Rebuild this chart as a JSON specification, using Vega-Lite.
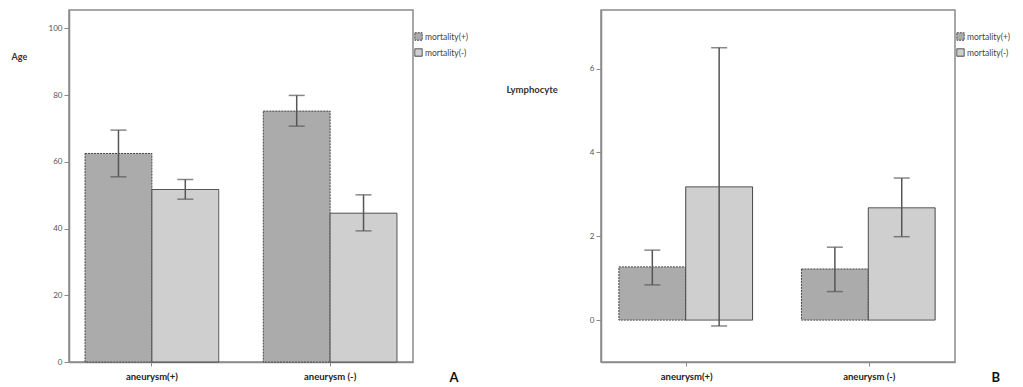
{
  "$schema": "https://vega.github.io/schema/vega-lite/v6.json",
  "padding": {"left": 10, "top": 9, "right": 0, "bottom": 0},
  "bounds": "flush",
  "spacing": 188,
  "config": {
    "font": "Lato",
    "view": {"stroke": "#8a8a8a", "strokeWidth": 1.5},
    "axis": {"grid": false, "domainColor": "#8a8a8a", "domainWidth": 1.5, "tickColor": "#8a8a8a", "labelColor": "#555", "labelFontSize": 8, "titleColor": "#333", "titleFontSize": 9, "titleFontWeight": "bold"},
    "legend": {"labelFontSize": 8.5, "labelColor": "#444", "symbolType": "square", "symbolSize": 55, "symbolStrokeColor": "#444", "symbolStrokeWidth": 1, "rowPadding": 3, "labelOffset": 2, "padding": 0}
  },
  "datasets": {
    "a": [
      {"aneurysm": "aneurysm(+)", "mortality": "mortality(+)", "value": 62.5, "lo": 55.5, "hi": 69.5},
      {"aneurysm": "aneurysm(+)", "mortality": "mortality(-)", "value": 51.7, "lo": 48.8, "hi": 54.7},
      {"aneurysm": "aneurysm (-)", "mortality": "mortality(+)", "value": 75.2, "lo": 70.7, "hi": 79.9},
      {"aneurysm": "aneurysm (-)", "mortality": "mortality(-)", "value": 44.6, "lo": 39.3, "hi": 50.1}
    ],
    "b": [
      {"aneurysm": "aneurysm(+)", "mortality": "mortality(+)", "value": 1.27, "lo": 0.84, "hi": 1.67},
      {"aneurysm": "aneurysm(+)", "mortality": "mortality(-)", "value": 3.18, "lo": -0.14, "hi": 6.5},
      {"aneurysm": "aneurysm (-)", "mortality": "mortality(+)", "value": 1.22, "lo": 0.68, "hi": 1.74},
      {"aneurysm": "aneurysm (-)", "mortality": "mortality(-)", "value": 2.68, "lo": 1.99, "hi": 3.39}
    ]
  },
  "resolve": {"scale": {"x": "independent", "y": "independent", "fill": "independent", "strokeDash": "independent"}, "legend": {"fill": "independent", "strokeDash": "independent"}},
  "hconcat": [
    {
      "width": 344,
      "height": 352,
      "data": {"name": "a"},
      "encoding": {
        "x": {"field": "aneurysm", "type": "nominal", "sort": ["aneurysm(+)", "aneurysm (-)"], "scale": {"paddingInner": 0.25, "paddingOuter": 0.09},
          "axis": {"labelAngle": 0, "labelFontSize": 9.5, "labelFontWeight": "bold", "labelColor": "#222", "tickSize": 4, "labelPadding": 5, "title": "A", "titleX": 380, "titleY": 15, "titleAlign": "left", "titleBaseline": "middle", "titleFontSize": 13, "titleColor": "#111"}},
        "xOffset": {"field": "mortality", "type": "nominal", "sort": ["mortality(+)", "mortality(-)"], "scale": {"paddingInner": 0}}
      },
      "layer": [
        {
          "mark": {"type": "bar", "stroke": "#444", "strokeWidth": 1},
          "encoding": {
            "y": {"field": "value", "type": "quantitative", "scale": {"domain": [0, 105.5], "nice": false},
              "axis": {"values": [0, 20, 40, 60, 80, 100], "tickSize": 5, "title": "Age", "titleAngle": 0, "titleX": -58, "titleY": 46, "titleAlign": "left", "titleBaseline": "middle"}},
            "fill": {"field": "mortality", "type": "nominal", "scale": {"domain": ["mortality(+)", "mortality(-)"], "range": ["#ababab", "#cfcfcf"]},
              "legend": {"title": null, "orient": "none", "legendX": 345, "legendY": 22}},
            "strokeDash": {"field": "mortality", "type": "nominal", "scale": {"domain": ["mortality(+)", "mortality(-)"], "range": [[2, 1], [1, 0]]}, "legend": null}
          }
        },
        {
          "mark": {"type": "rule", "color": "#555", "strokeWidth": 1.5},
          "encoding": {"y": {"field": "lo", "type": "quantitative"}, "y2": {"field": "hi"}}
        },
        {
          "mark": {"type": "tick", "color": "#555", "size": 16, "thickness": 1.5},
          "encoding": {"y": {"field": "hi", "type": "quantitative"}}
        },
        {
          "mark": {"type": "tick", "color": "#555", "size": 16, "thickness": 1.5},
          "encoding": {"y": {"field": "lo", "type": "quantitative"}}
        }
      ]
    },
    {
      "width": 354,
      "height": 352,
      "data": {"name": "b"},
      "encoding": {
        "x": {"field": "aneurysm", "type": "nominal", "sort": ["aneurysm(+)", "aneurysm (-)"], "scale": {"paddingInner": 0.257, "paddingOuter": 0.098},
          "axis": {"labelAngle": 0, "labelFontSize": 9.5, "labelFontWeight": "bold", "labelColor": "#222", "tickSize": 4, "labelPadding": 5, "title": "B", "titleX": 390, "titleY": 15, "titleAlign": "left", "titleBaseline": "middle", "titleFontSize": 13, "titleColor": "#111"}},
        "xOffset": {"field": "mortality", "type": "nominal", "sort": ["mortality(+)", "mortality(-)"], "scale": {"paddingInner": 0}}
      },
      "layer": [
        {
          "mark": {"type": "bar", "stroke": "#444", "strokeWidth": 1},
          "encoding": {
            "y": {"field": "value", "type": "quantitative", "scale": {"domain": [-1, 7.4], "nice": false, "zero": false},
              "axis": {"values": [0, 2, 4, 6], "tickSize": 5, "title": "Lymphocyte", "titleAngle": 0, "titleX": -95, "titleY": 79, "titleAlign": "left", "titleBaseline": "middle", "titleFontSize": 9.5}},
            "y2": {"datum": 0},
            "fill": {"field": "mortality", "type": "nominal", "scale": {"domain": ["mortality(+)", "mortality(-)"], "range": ["#ababab", "#cfcfcf"]},
              "legend": {"title": null, "orient": "none", "legendX": 355, "legendY": 22}},
            "strokeDash": {"field": "mortality", "type": "nominal", "scale": {"domain": ["mortality(+)", "mortality(-)"], "range": [[2, 1], [1, 0]]}, "legend": null}
          }
        },
        {
          "mark": {"type": "rule", "color": "#555", "strokeWidth": 1.5},
          "encoding": {"y": {"field": "lo", "type": "quantitative"}, "y2": {"field": "hi"}}
        },
        {
          "mark": {"type": "tick", "color": "#555", "size": 16, "thickness": 1.5},
          "encoding": {"y": {"field": "hi", "type": "quantitative"}}
        },
        {
          "mark": {"type": "tick", "color": "#555", "size": 16, "thickness": 1.5},
          "encoding": {"y": {"field": "lo", "type": "quantitative"}}
        }
      ]
    }
  ]
}
